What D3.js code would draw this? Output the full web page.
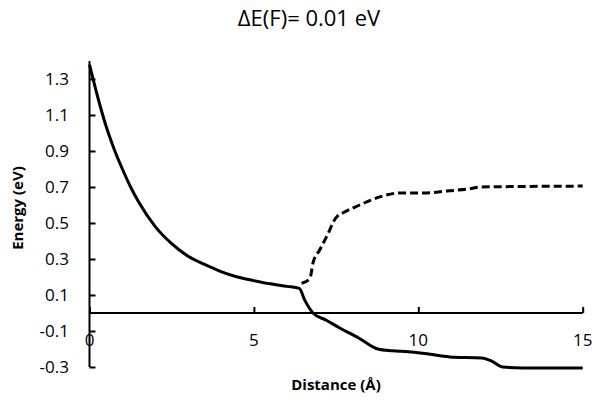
<!DOCTYPE html>
<html>
<head>
<meta charset="utf-8">
<script src="https://cdn.jsdelivr.net/npm/d3@7"></script>
<style>
  html, body { margin: 0; padding: 0; background: #fff; }
  svg { display: block; font-family: "Open Sans", sans-serif; }
</style>
</head>
<body>
<svg id="chart" width="595" height="400"></svg>
<script>
// ---- data ----
const titleText = "ΔE(F)= 0.01 eV";
const xLabel = "Distance (Å)";
const yLabel = "Energy (eV)";
const xTicks = [0, 5, 10, 15];
const yTicks = [-0.3, -0.1, 0.1, 0.3, 0.5, 0.7, 0.9, 1.1, 1.3];

const solidX = [0, 0.25, 0.5, 0.75, 1.0, 1.25, 1.5, 2.0, 2.5, 3.0, 3.5, 4.0, 4.5, 5.0, 5.5, 6.0, 6.38, 6.55, 6.8, 7.2, 7.61, 8.2, 8.77, 9.2, 9.7, 10.26, 10.96, 11.93, 12.23, 12.57, 13.18, 15];
const solidY = [1.38, 1.20, 1.04, 0.91, 0.80, 0.70, 0.615, 0.48, 0.385, 0.315, 0.27, 0.23, 0.20, 0.18, 0.162, 0.148, 0.137, 0.07, 0.0, -0.04, -0.083, -0.14, -0.2, -0.21, -0.215, -0.227, -0.244, -0.25, -0.267, -0.3, -0.305, -0.305];

const dashedX = [6.45, 6.7, 6.8, 7.0, 7.2, 7.5, 7.7, 8.22, 8.83, 9.44, 10.26, 10.87, 11.57, 11.87, 15];
const dashedY = [0.165, 0.19, 0.28, 0.35, 0.42, 0.53, 0.555, 0.60, 0.645, 0.667, 0.667, 0.678, 0.69, 0.70, 0.705];

// ---- chart ----
const svg = d3.select("#chart");
const x = d3.scaleLinear().domain([0, 15]).range([89.5, 582.7]);
const y = d3.scaleLinear().domain([-0.3, 1.4]).range([367, 61]);

// title
svg.append("text")
  .attr("x", 309).attr("y", 26)
  .attr("text-anchor", "middle")
  .attr("font-size", 22)
  .attr("fill", "#000")
  .text(titleText);

// y axis
const yAxis = d3.axisRight(y).tickValues(yTicks).tickSize(6).tickFormat("");
const gy = svg.append("g").attr("transform", `translate(${x(0)},0)`).call(yAxis);
gy.select(".domain").attr("stroke", "#000").attr("stroke-width", 2).attr("d", `M0,${y(1.4)}V${y(-0.3)}`);
gy.selectAll(".tick line").attr("stroke", "#000").attr("stroke-width", 2);

svg.append("g").selectAll("text").data(yTicks).join("text")
  .attr("x", 69).attr("y", d => y(d))
  .attr("dy", "0.35em")
  .attr("text-anchor", "end")
  .attr("font-size", 17)
  .text(d => d3.format(".1f")(d).replace("−", "-"));

// x axis at y=0
const xAxis = d3.axisTop(x).tickValues(xTicks).tickSize(6).tickFormat("");
const gx = svg.append("g").attr("transform", `translate(0,${y(0)})`).call(xAxis);
gx.select(".domain").attr("stroke", "#000").attr("stroke-width", 2).attr("d", `M${x(0)},0H${x(15)}`);
gx.selectAll(".tick line").attr("stroke", "#000").attr("stroke-width", 2);

svg.append("g").selectAll("text").data(xTicks).join("text")
  .attr("x", d => x(d)).attr("y", y(0) + 27)
  .attr("dy", "0.35em")
  .attr("text-anchor", "middle")
  .attr("font-size", 17)
  .text(d => d);

// axis titles
svg.append("text")
  .attr("x", 336).attr("y", 390)
  .attr("text-anchor", "middle")
  .attr("font-size", 15).attr("font-weight", "bold")
  .text(xLabel);

svg.append("text")
  .attr("transform", `translate(23,208) rotate(-90)`)
  .attr("text-anchor", "middle")
  .attr("font-size", 15).attr("font-weight", "bold")
  .text(yLabel);

// lines
const line = d3.line().x(d => x(d[0])).y(d => y(d[1])).curve(d3.curveMonotoneX);
const solid = solidX.map((v, i) => [v, solidY[i]]);
const dashed = dashedX.map((v, i) => [v, dashedY[i]]);

svg.append("path").datum(solid)
  .attr("d", line).attr("fill", "none")
  .attr("stroke", "#000").attr("stroke-width", 3)
  .attr("stroke-linejoin", "round");

svg.append("path").datum(dashed)
  .attr("d", line).attr("fill", "none")
  .attr("stroke", "#000").attr("stroke-width", 3)
  .attr("stroke-dasharray", "8,4");
</script>
</body>
</html>
